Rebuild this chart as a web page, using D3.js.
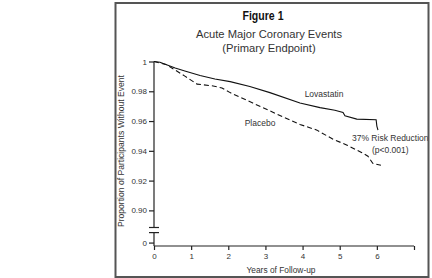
<!DOCTYPE html>
<html>
<head>
<meta charset="utf-8">
<script src="https://cdn.jsdelivr.net/npm/d3@7"></script>
<style>
  body { margin: 0; background: #fff; }
  text { font-family: "Liberation Sans", Arial, sans-serif; fill: #333; }
  .axis path, .axis line { stroke: #222; stroke-width: 1.2; }
  .axis text { font-size: 8px; fill: #333; }
  .curve { fill: none; stroke: #111; stroke-width: 1.1; }
</style>
</head>
<body>
<div id="chart"></div>
<script>
// Years of follow-up and proportion without event
var lovastatinYears = [0, 0.16, 0.32, 0.57, 0.83, 1.24, 1.64, 2.05, 2.58, 3.12, 3.93, 4.47, 4.87, 5.09, 5.14, 5.46, 5.98, 6.0, 6.03]
var lovastatinValues = [1.0, 0.9995, 0.998, 0.9956, 0.9936, 0.9906, 0.9882, 0.9865, 0.9832, 0.9791, 0.9721, 0.969, 0.9673, 0.9657, 0.9636, 0.9613, 0.9609, 0.9566, 0.9539]

var placeboYears = [0, 0.32, 0.57, 0.83, 1.16, 1.56, 1.83, 2.05, 2.66, 3.47, 3.93, 4.39, 4.47, 4.82, 5.2, 5.6, 5.76, 5.89, 6.11]
var placeboValues = [1.0, 0.998, 0.9943, 0.9902, 0.9848, 0.9837, 0.9822, 0.9791, 0.9721, 0.9628, 0.9577, 0.9539, 0.9527, 0.9478, 0.9438, 0.9387, 0.9364, 0.9316, 0.9303]

var xTicks = [0, 1, 2, 3, 4, 5, 6, 7]
var yTicks = [0.90, 0.92, 0.94, 0.96, 0.98, 1]
var yTickLabels = ["0.90", "0.92", "0.94", "0.96", "0.98", "1"]
var titleLines = ["Acute Major Coronary Events", "(Primary Endpoint)"]

var width = 432, height = 278

var svg = d3.select("#chart").append("svg")
  .attr("width", width)
  .attr("height", height)

var x = d3.scaleLinear().domain([0, 7]).range([154, 414])
// upper part of the broken y axis
var y = d3.scaleLinear().domain([0.8885, 1]).range([227.5, 61.5])
// lower stub holding only the zero
var yLow = d3.scaleLinear().domain([-0.0023, 0.0067]).range([246, 232.6])

// title
svg.append("text")
  .attr("x", 263).attr("y", 20)
  .attr("text-anchor", "middle")
  .attr("font-size", 13).attr("font-weight", "bold")
  .attr("textLength", 41).attr("lengthAdjust", "spacingAndGlyphs")
  .style("fill", "#111")
  .text("Figure 1")
titleLines.forEach(function (t, i) {
  svg.append("text")
    .attr("x", 269).attr("y", 37.5 + i * 14)
    .attr("text-anchor", "middle")
    .attr("font-size", 11.2)
    .text(t)
})

// x axis
var xAxis = d3.axisBottom(x).tickValues(xTicks).tickSize(4).tickPadding(3)
  .tickFormat(function (d) { return d === 7 ? "" : d })
svg.append("g").attr("class", "axis")
  .attr("transform", "translate(0,246)")
  .call(xAxis)
  .call(function (g) { g.select(".domain").attr("d", "M154,0H414") })

// y axis, upper segment
var yAxis = d3.axisLeft(y).tickValues(yTicks).tickSize(5).tickPadding(2)
  .tickFormat(function (d, i) { return yTickLabels[i] })
svg.append("g").attr("class", "axis")
  .attr("transform", "translate(154,0)")
  .call(yAxis)
  .call(function (g) { g.select(".domain").attr("d", "M0," + y(1) + "V" + y(0.8885)) })

// y axis, lower segment
svg.append("g").attr("class", "axis")
  .attr("transform", "translate(154,0)")
  .call(d3.axisLeft(yLow).tickValues([0]).tickSize(5).tickPadding(2).tickFormat(function (d) { return "0" }))
  .call(function (g) { g.select(".domain").attr("d", "M0," + yLow(0.0067) + "V" + yLow(-0.0023)) })

// break marks
;[y(0.8885), yLow(0.0067)].forEach(function (py) {
  svg.append("line")
    .attr("x1", 149).attr("x2", 159)
    .attr("y1", py).attr("y2", py)
    .attr("stroke", "#222").attr("stroke-width", 1.2)
})

// y label
svg.append("text")
  .attr("transform", "translate(124,151) rotate(-90)")
  .attr("text-anchor", "middle")
  .attr("font-size", 9)
  .attr("textLength", 152).attr("lengthAdjust", "spacingAndGlyphs")
  .text("Proportion of Participants Without Event")

// x label
svg.append("text")
  .attr("x", 281).attr("y", 273)
  .attr("text-anchor", "middle")
  .attr("font-size", 8.5)
  .attr("textLength", 69).attr("lengthAdjust", "spacingAndGlyphs")
  .text("Years of Follow-up")

// curves
var line = d3.line()
  .x(function (d) { return x(d[0]) })
  .y(function (d) { return y(d[1]) })

svg.append("path").attr("class", "curve")
  .attr("d", line(d3.zip(lovastatinYears, lovastatinValues)))

svg.append("path").attr("class", "curve")
  .attr("stroke-dasharray", "5,3")
  .attr("d", line(d3.zip(placeboYears, placeboValues)))

// annotations
svg.append("text").attr("x", 324).attr("y", 97)
  .attr("text-anchor", "middle").attr("font-size", 8.5).text("Lovastatin")
svg.append("text").attr("x", 260).attr("y", 126)
  .attr("text-anchor", "middle").attr("font-size", 8.5).text("Placebo")
svg.append("text").attr("x", 352).attr("y", 141)
  .attr("font-size", 8.5).text("37% Risk Reduction")
svg.append("text").attr("x", 372).attr("y", 153)
  .attr("font-size", 8.5).text("(p<0.001)")

// frame
svg.append("rect")
  .attr("x", 115.5).attr("y", 3)
  .attr("width", 313).attr("height", 274)
  .attr("fill", "none")
  .attr("stroke", "#555").attr("stroke-width", 2)
</script>
</body>
</html>
